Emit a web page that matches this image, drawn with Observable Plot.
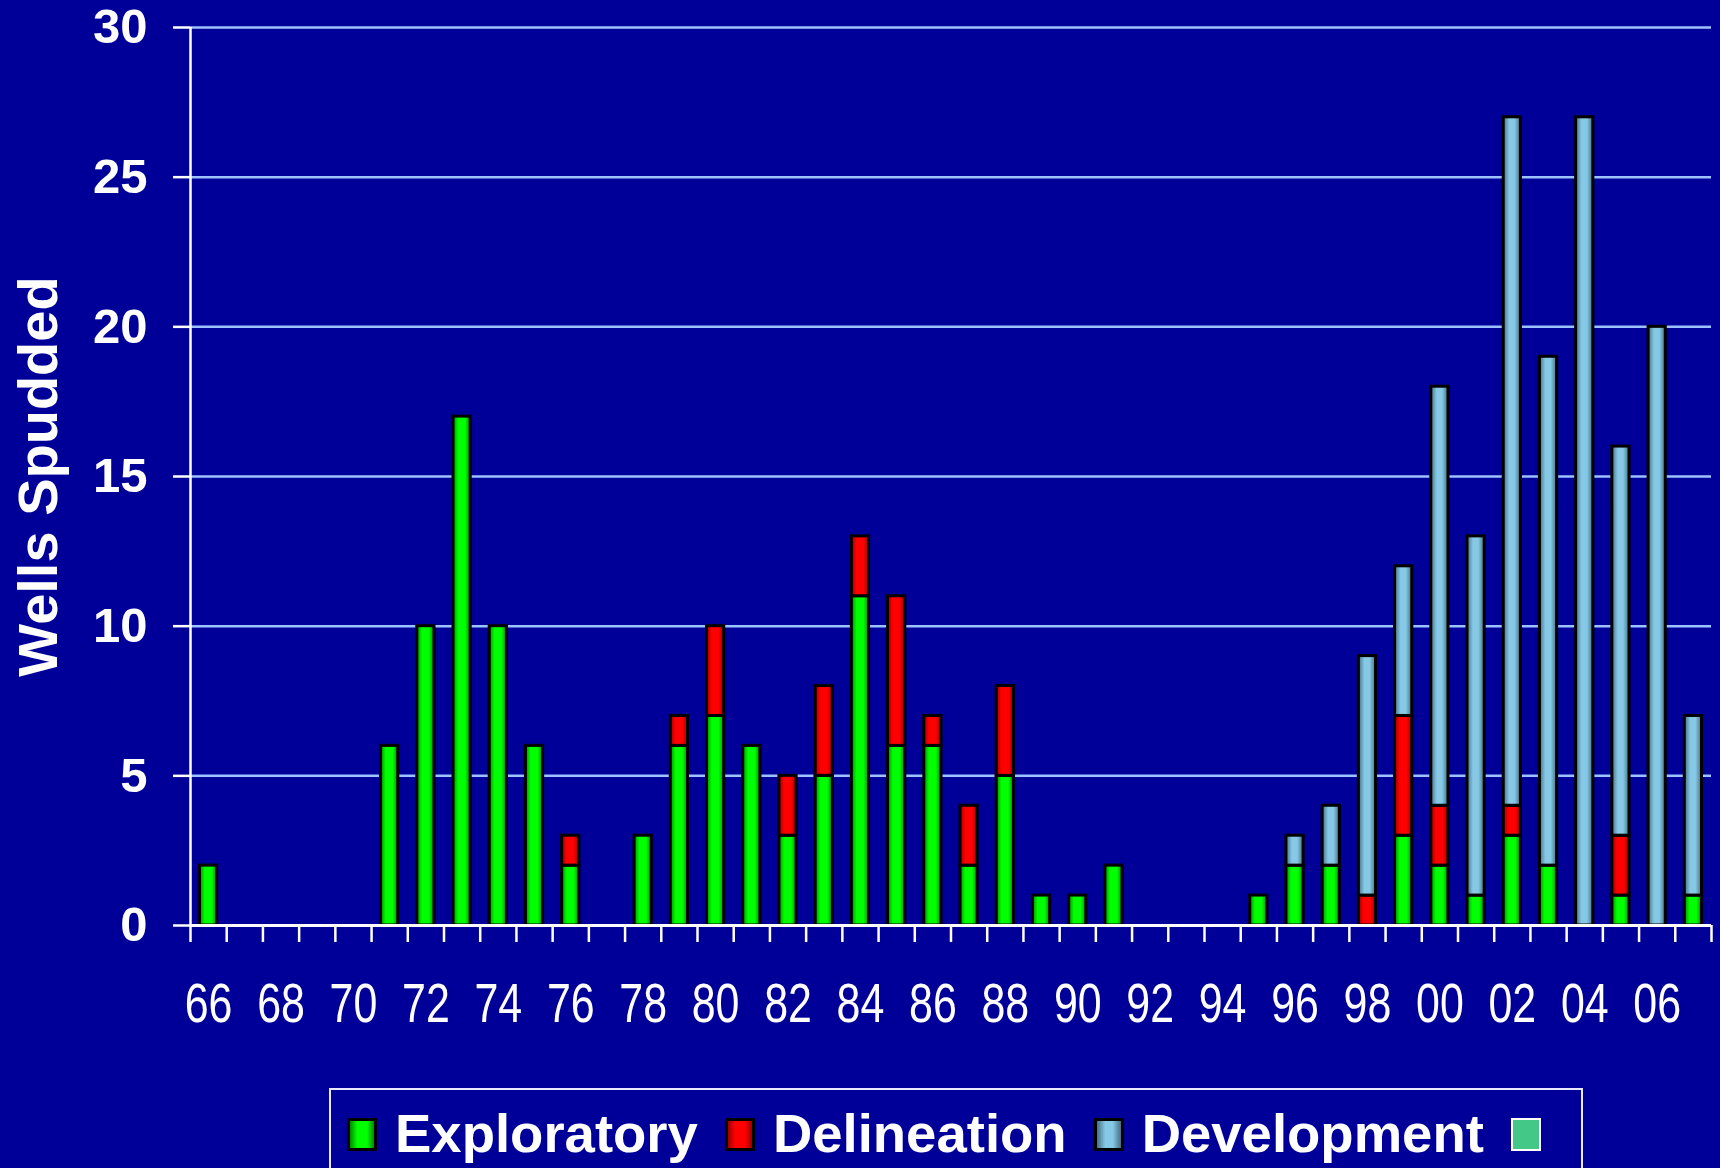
<!DOCTYPE html>
<html>
<head>
<meta charset="utf-8">
<script src="https://cdn.jsdelivr.net/npm/d3@7"></script>
<script src="https://cdn.jsdelivr.net/npm/@observablehq/plot@0.6"></script>
<style>
  html, body { margin: 0; padding: 0; background: #000099; width: 1720px; height: 1168px; overflow: hidden; }
  #chart { position: absolute; left: 0; top: 0; }
  #legend {
    position: absolute; left: 329px; top: 1088px; width: 1254px; height: 100px;
    border: 2px solid #e8e8ff; box-sizing: border-box;
    display: flex; align-items: flex-start; padding: 16px 0 0 16px;
    font-family: "Liberation Sans", Arial, sans-serif; font-weight: bold; font-size: 54.5px;
    color: white; line-height: 55px;
  }
  #legend .sw { width: 30px; height: 33px; box-sizing: border-box; border: 3px solid black; margin-top: 12px; flex: none; }
  #legend .lab { margin-left: 18px; margin-right: 27px; white-space: nowrap; }
</style>
</head>
<body>
<svg width="0" height="0" style="position:absolute">
  <defs>
    <linearGradient id="gE" x1="0" x2="1" y1="0" y2="0">
      <stop offset="0" stop-color="#008a00"/><stop offset="0.3" stop-color="#00ff00"/>
      <stop offset="0.7" stop-color="#00ff00"/><stop offset="1" stop-color="#008a00"/>
    </linearGradient>
    <linearGradient id="gD" x1="0" x2="1" y1="0" y2="0">
      <stop offset="0" stop-color="#9a0000"/><stop offset="0.3" stop-color="#ff0000"/>
      <stop offset="0.7" stop-color="#ff0000"/><stop offset="1" stop-color="#9a0000"/>
    </linearGradient>
    <linearGradient id="gV" x1="0" x2="1" y1="0" y2="0">
      <stop offset="0" stop-color="#466f82"/><stop offset="0.35" stop-color="#86c9e6"/>
      <stop offset="0.65" stop-color="#86c9e6"/><stop offset="1" stop-color="#466f82"/>
    </linearGradient>
  </defs>
</svg>
<div id="chart"></div>
<div id="legend"></div>
<script>
// ---- data ----
const years = [1966,1967,1968,1969,1970,1971,1972,1973,1974,1975,1976,1977,1978,1979,1980,1981,1982,1983,1984,1985,1986,1987,1988,1989,1990,1991,1992,1993,1994,1995,1996,1997,1998,1999,2000,2001,2002,2003,2004,2005,2006,2007];
const exploratory = [2,0,0,0,0,6,10,17,10,6,2,0,3,6,7,6,3,5,11,6,6,2,5,1,1,2,0,0,0,1,2,2,0,3,2,1,3,2,0,1,0,1];
const delineation = [0,0,0,0,0,0,0,0,0,0,1,0,0,1,3,0,2,3,2,5,1,2,3,0,0,0,0,0,0,0,0,0,1,4,2,0,1,0,0,2,0,0];
const development = [0,0,0,0,0,0,0,0,0,0,0,0,0,0,0,0,0,0,0,0,0,0,0,0,0,0,0,0,0,0,1,2,8,5,14,12,23,17,27,13,20,6];
const seriesNames = ["Exploratory", "Delineation", "Development"];
const seriesFills = ["url(#gE)", "url(#gD)", "url(#gV)"];
const yTicks = [0, 5, 10, 15, 20, 25, 30];
const yLabel = "Wells Spudded";

// long table for stacking
const rows = [];
years.forEach((yr, i) => {
  [exploratory[i], delineation[i], development[i]].forEach((v, k) => {
    if (v > 0) rows.push({year: yr, type: seriesNames[k], value: v});
  });
});
const boundaries = d3.range(years[0], years[years.length - 1] + 2);
const labelYears = years.filter(y => y % 2 === 0);

const chart = Plot.plot({
  width: 1720,
  height: 1088,
  marginLeft: 190,
  marginRight: 9,
  marginTop: 27,
  marginBottom: 163,
  style: {background: "#000099", color: "white", overflow: "visible", fontFamily: "'Liberation Sans', Arial, sans-serif"},
  x: {type: "linear", domain: [years[0], years[years.length - 1] + 1]},
  y: {domain: [0, 30]},
  color: {type: "ordinal", domain: seriesNames, range: seriesFills},
  marks: [
    Plot.ruleY(yTicks.filter(d => d > 0), {stroke: "#9cc2ff", strokeWidth: 2.5}),
    Plot.rectY(rows, {x: "year", y: "value", fill: "type", interval: 1, insetLeft: 9.5, insetRight: 9.5, stroke: "black", strokeWidth: 3}),
    Plot.ruleY([0], {stroke: "white", strokeWidth: 3}),
    Plot.ruleX([years[0]], {y1: 0, y2: 30, stroke: "white", strokeWidth: 2.5}),
    Plot.axisY({ticks: yTicks, tickSize: 17, tickPadding: 26, fontSize: 49, fontWeight: "bold", stroke: "white", strokeWidth: 2.5, label: null}),
    Plot.axisX({ticks: boundaries, tickSize: 17, tickFormat: () => "", stroke: "white", strokeWidth: 2.5, label: null}),
    Plot.axisX({ticks: labelYears.map(y => y + 0.5), tickSize: 0, tickPadding: 57,
      tickFormat: d => String(Math.floor(d) % 100).padStart(2, "0"),
      fontSize: 55, fontFamily: "'Liberation Sans', Arial, sans-serif", label: null}),
    Plot.text([yLabel], {text: d => d, frameAnchor: "left", dx: -134, rotate: -90, textAnchor: "middle", lineAnchor: "bottom",
      fontSize: 56, fontWeight: "bold", fill: "white"})
  ]
});
// condensed look for the x tick labels
d3.select(chart).selectAll('g[aria-label="x-axis tick label"] text').each(function() {
  const t = this.getAttribute("transform") || "";
  this.setAttribute("transform", t + " scale(0.78,1)");
});
document.getElementById("chart").appendChild(chart);

// legend
const legend = document.getElementById("legend");
seriesNames.forEach((name, k) => {
  const sw = document.createElement("div");
  sw.className = "sw";
  sw.style.background = ["linear-gradient(90deg,#008a00,#00ff00 30%,#00ff00 70%,#008a00)",
    "linear-gradient(90deg,#9a0000,#ff0000 30%,#ff0000 70%,#9a0000)",
    "linear-gradient(90deg,#466f82,#86c9e6 35%,#86c9e6 65%,#466f82)"][k];
  legend.appendChild(sw);
  const lab = document.createElement("span");
  lab.className = "lab";
  lab.textContent = name;
  legend.appendChild(lab);
});
const extra = document.createElement("div");
extra.className = "sw";
extra.style.background = "#44c888";
extra.style.borderColor = "white";
extra.style.borderWidth = "2px";
legend.appendChild(extra);
</script>
</body>
</html>
